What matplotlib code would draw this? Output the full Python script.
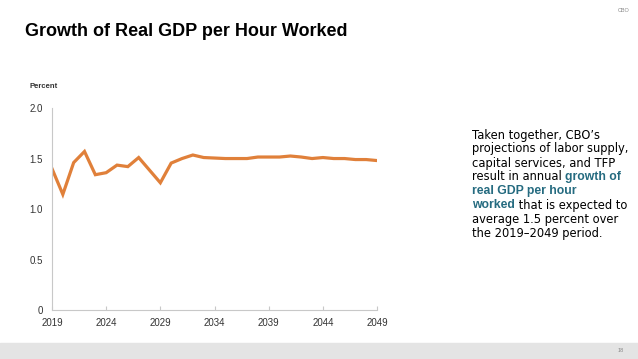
import numpy as np
import matplotlib
matplotlib.use('Agg')
import matplotlib.pyplot as plt
import matplotlib.patches as mpatches

plt.rcParams['font.family'] = ['Liberation Sans', 'DejaVu Sans']

years = np.arange(2019, 2050)
growth = [1.40, 1.145, 1.46, 1.57, 1.34, 1.36, 1.435, 1.42, 1.51, 1.385,
          1.26, 1.455, 1.50, 1.535, 1.51, 1.505, 1.50, 1.50, 1.50, 1.515,
          1.515, 1.515, 1.525, 1.515, 1.50, 1.51, 1.50, 1.50, 1.49, 1.49,
          1.48]
xticks = [2019, 2024, 2029, 2034, 2039, 2044, 2049]
yticks = [0, 0.5, 1.0, 1.5, 2.0]
ylabels = ['0', '0.5', '1.0', '1.5', '2.0']

teal = '#256b80'

fig = plt.figure(figsize=(6.38, 3.59), dpi=100)
ax = fig.add_axes([0.0815, 0.1365, 0.5095, 0.5625])

ax.plot(years, growth, color='#e0803a', lw=2.3, solid_joinstyle='miter')
ax.set_xlim(2019, 2049)
ax.set_ylim(0, 2.0)
ax.set_xticks(xticks)
ax.set_yticks(yticks)
ax.set_yticklabels(ylabels)
for s in ['top', 'right']:
    ax.spines[s].set_visible(False)
for s in ['left', 'bottom']:
    ax.spines[s].set_color('#c8c8c8')
    ax.spines[s].set_linewidth(0.8)
ax.tick_params(axis='x', direction='in', length=3, color='#c8c8c8', labelsize=7, labelcolor='#333333', pad=5.5)
ax.tick_params(axis='y', direction='in', length=0, labelsize=7, labelcolor='#333333', pad=6.5)

# titles
fig.text(25/638, 1-32/359, 'Growth of Real GDP per Hour Worked', fontsize=13, fontweight='bold', va='center', ha='left')
fig.text(30/638, 1-86/359, 'Percent', fontsize=5.5, fontweight='bold', va='center', ha='left', color='#333333')
fig.text(629/638, 1-10/359, 'CBO', fontsize=4, va='center', ha='right', color='#888888')

# footer
fig.patches.append(mpatches.Rectangle((0, 0), 1, 16/359, transform=fig.transFigure, color='#e4e4e4', zorder=0))
fig.text(624/638, 8/359, '18', fontsize=4, va='center', ha='right', color='#888888')

# side text with mixed colours
lines = [
    [("Taken together, CBO\u2019s", 'k', 'normal')],
    [("projections of labor supply,", 'k', 'normal')],
    [("capital services, and TFP", 'k', 'normal')],
    [("result in annual ", 'k', 'normal'), ("growth of", teal, 'bold')],
    [("real GDP per hour", teal, 'bold')],
    [("worked", teal, 'bold'), (" that is expected to", 'k', 'normal')],
    [("average 1.5 percent over", 'k', 'normal')],
    [("the 2019\u20132049 period.", 'k', 'normal')],
]
renderer = fig.canvas.get_renderer()
x0 = 472
y0 = 135
dy = 14.0
for i, parts in enumerate(lines):
    x = x0
    y = 359 - (y0 + i * dy)
    for txt, col, wt in parts:
        if wt == 'bold':
            t = fig.text(x/638, y/359, txt, fontsize=8.8, color=col, fontweight='bold',
                         family='Liberation Sans', va='center', ha='left')
        else:
            t = fig.text(x/638, y/359, txt, fontsize=8.3, color=col,
                         family='DejaVu Sans', va='center', ha='left')
        bb = t.get_window_extent(renderer=renderer)
        x += bb.width

fig.savefig('out.png', dpi=100)
